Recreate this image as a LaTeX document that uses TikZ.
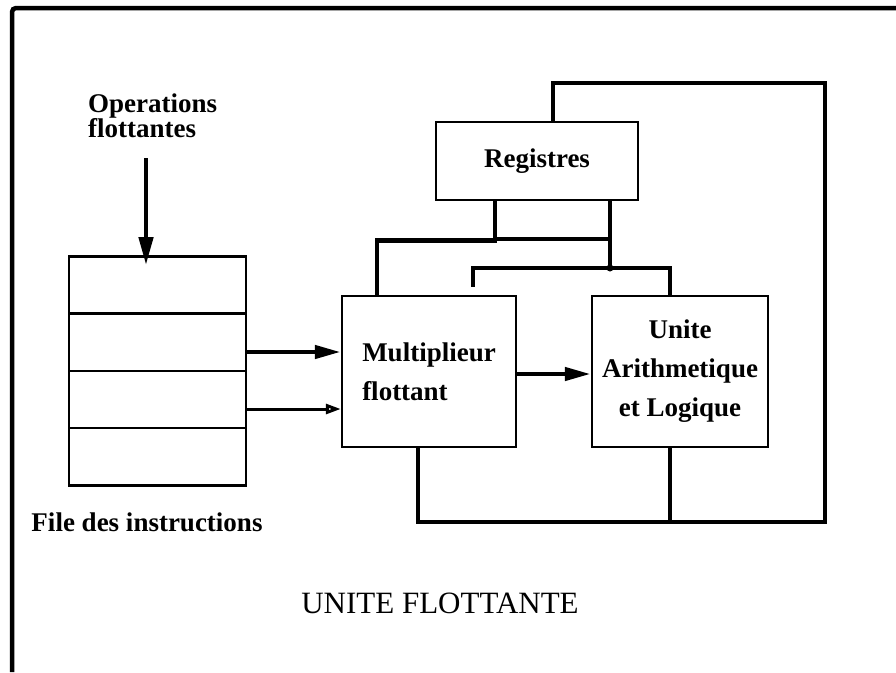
\documentclass[tikz,border=0pt]{standalone}
\usepackage{fontspec}
\setmainfont{Liberation Serif}
\usetikzlibrary{arrows.meta}

\tikzset{
	unit/.style={draw, line width=2.5pt, inner sep=0pt, font=\bfseries\fontsize{27}{39}\selectfont},
	cell/.style={draw, line width=2.5pt, inner sep=0pt, minimum width=177pt, minimum height=57.25pt},
	bus/.style={line width=4.5pt},
	feed/.style={bus, -{Triangle[length=26pt,width=13pt]}},
	tag/.style={inner sep=0pt, font=\bfseries\fontsize{27}{25}\selectfont}
}

\begin{document}
\begin{tikzpicture}[x=1pt, y=-1pt]
	\useasboundingbox (0,0) rectangle (896,672);
	\draw[line width=4.5pt, rounded corners=4pt] (12,672) -- (12,8) -- (896,8);

	% file des instructions
	\node[cell] (cell1) at (157.5,285) {};
	\node[cell] (cell2) at (157.5,342.25) {};
	\node[cell] (cell3) at (157.5,399.5) {};
	\node[cell] (cell4) at (157.5,456.75) {};
	\node[tag] (file) at (147,522) {File des instructions};

	\node[tag, align=left, anchor=west] (ops) at (88,116) {Operations\\flottantes};
	\coordinate (opsin) at (146,158);
	\draw[feed, -{Triangle[length=28pt,width=14pt]}, shorten >=-10pt] (opsin) -- (opsin |- cell1.north);

	% unites
	\node[unit, minimum width=202pt, minimum height=78pt] (reg) at (537,161) {Registres};
	\node[unit, minimum width=174pt, minimum height=151pt, align=left] (mult) at (429,371.5) {Multiplieur\\flottant};
	\node[unit, minimum width=176pt, minimum height=151pt, align=center] (alu) at (680,371.5) {Unite\\Arithmetique\\et Logique};

	\path[feed] (cell2.east |- 0,352) edge (mult.west |- 0,352);
	\path[line width=3pt, -{Triangle[open,length=15pt,width=10pt]}] (cell3.east |- 0,409) edge (mult.west |- 0,409);
	\path[feed] (mult.east |- 0,374) edge (alu.west |- 0,374);

	% bus
	\coordinate (busA) at (610,239);
	\coordinate (busB) at (610,268);
	\draw[bus] ([xshift=-42pt]reg.south) -- ++(0,39) -| ([xshift=-52pt]mult.north);
	\draw[bus] ([xshift=-42pt]reg.south |- busA) -- (busA);
	\draw[bus] ([xshift=73pt]reg.south) -- (busB);
	\draw[bus, shorten >=8pt] ([xshift=-10pt]alu.north) |- (busB) -| ([xshift=44pt]mult.north);
	\fill (busB) circle (3.5pt);

	\draw[bus] ([xshift=16pt]reg.north) -- ++(0,-38) -| (825,522) -| ([xshift=-11pt]mult.south);
	\draw[bus] ([xshift=-10pt]alu.south) -- +(0,75);

	\node[font=\fontsize{31}{31}\selectfont, inner sep=0pt] (title) at (440,603) {UNITE FLOTTANTE};
\end{tikzpicture}
\end{document}
